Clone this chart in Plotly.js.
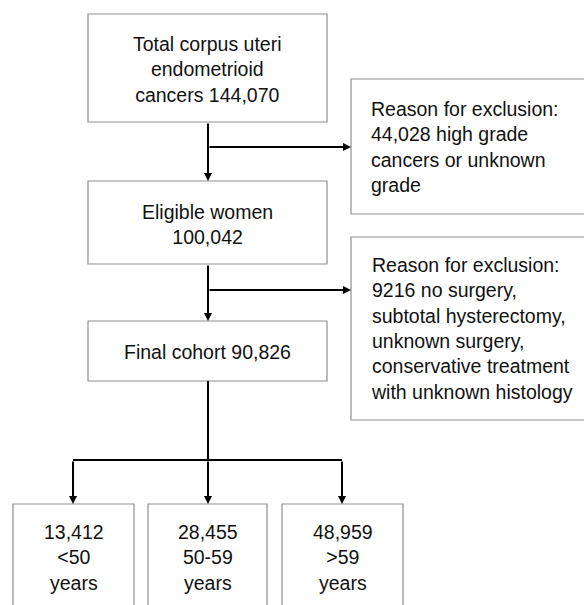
<!DOCTYPE html>
<html>
<head>
<meta charset="utf-8">
<script src="https://cdn.plot.ly/plotly-3.0.1.min.js"></script>
<style>html,body{margin:0;padding:0;background:#fff;}#chart{width:584px;height:605px;}</style>
</head>
<body>
<div id="chart"></div>
<script>
// ---- data ----
var totalCases = 144070;
var eligibleWomen = 100042;
var finalCohort = 90826;
var excludedGrade = 44028;
var excludedSurgery = 9216;
var ageGroups = ['<50', '50-59', '>59'];
var ageCounts = [13412, 28455, 48959];

function fmt(n){ return n.toLocaleString('en-US'); }

var stageTexts = [
  'Total corpus uteri<br>endometrioid<br>cancers ' + fmt(totalCases),
  'Eligible women<br>' + fmt(eligibleWomen),
  'Final cohort ' + fmt(finalCohort)
];
var exclusionTexts = [
  'Reason for exclusion:<br>' + fmt(excludedGrade) + ' high grade<br>cancers or unknown<br>grade',
  'Reason for exclusion:<br>' + excludedSurgery + ' no surgery,<br>subtotal hysterectomy,<br>unknown surgery,<br>conservative treatment<br>with unknown histology'
];
var ageTexts = ageGroups.map(function(g, i){ return fmt(ageCounts[i]) + '<br>' + g.replace('<','&lt;').replace('>','&gt;') + '<br>years'; });

// ---- layout geometry (pixels, y downward) ----
var mainBoxes = [[88, 327, 14, 122], [88, 327, 181, 264], [88, 327, 321, 381]];
var exclBoxes = [[351, 600, 79, 214], [351, 600, 237, 420]];
var ageBoxes = [[13, 134, 504, 640], [148, 267, 504, 640], [282, 403, 504, 640]];
var spineX = 208;
var branchY = 460;
var branchX = [73, 208, 342];

var FONT = {family: 'Liberation Sans, Arial, Helvetica, sans-serif', size: 19.5, color: '#111'};
var shapes = [], annotations = [];

function box(b){
  shapes.push({type:'rect', xref:'x', yref:'y', x0:b[0], x1:b[1], y0:b[2], y1:b[3],
    line:{color:'#8f8f8f', width:1.2}, fillcolor:'rgba(0,0,0,0)'});
}
function seg(x0,y0,x1,y1){
  shapes.push({type:'line', xref:'x', yref:'y', x0:x0, y0:y0, x1:x1, y1:y1, line:{color:'#000', width:2}});
}
function arrow(x0,y0,x1,y1){
  annotations.push({x:x1, y:y1, ax:x0, ay:y0, xref:'x', yref:'y', axref:'x', ayref:'y',
    text:'', showarrow:true, arrowhead:2, arrowsize:0.8, arrowwidth:2, arrowcolor:'#000', standoff:0, startstandoff:0});
}
function label(x, y, t, align){
  annotations.push({x:x, y:y, xref:'x', yref:'y', text:t, showarrow:false, font:FONT,
    align:align||'center', xanchor: align==='left' ? 'left' : 'center', yanchor:'middle'});
}

mainBoxes.forEach(box); exclBoxes.forEach(box); ageBoxes.forEach(box);

label(207.5, 69, stageTexts[0]);
label(207.5, 224, stageTexts[1]);
label(207.5, 352, stageTexts[2]);
label(369, 147, exclusionTexts[0], 'left');
label(369, 328, exclusionTexts[1], 'left');
label(73.5, 557, ageTexts[0]);
label(207.5, 557, ageTexts[1]);
label(342.5, 557, ageTexts[2]);

// connectors
arrow(spineX, 122, spineX, 181);
arrow(spineX, 147, 351, 147);
arrow(spineX, 264, spineX, 321);
arrow(spineX, 290, 351, 290);
seg(spineX, 381, spineX, branchY);
seg(branchX[0], branchY, branchX[2], branchY);
branchX.forEach(function(x){ arrow(x, branchY, x, 504); });

var layout = {
  width: 584, height: 605,
  margin: {l:0, r:0, t:0, b:0},
  paper_bgcolor: '#fff', plot_bgcolor: '#fff',
  xaxis: {range:[0,584], visible:false, fixedrange:true},
  yaxis: {range:[605,0], visible:false, fixedrange:true},
  shapes: shapes, annotations: annotations, showlegend:false
};
Plotly.newPlot('chart', [{x:[], y:[], type:'scatter', mode:'markers', hoverinfo:'skip'}], layout, {staticPlot:true, displayModeBar:false});
</script>
</body>
</html>
